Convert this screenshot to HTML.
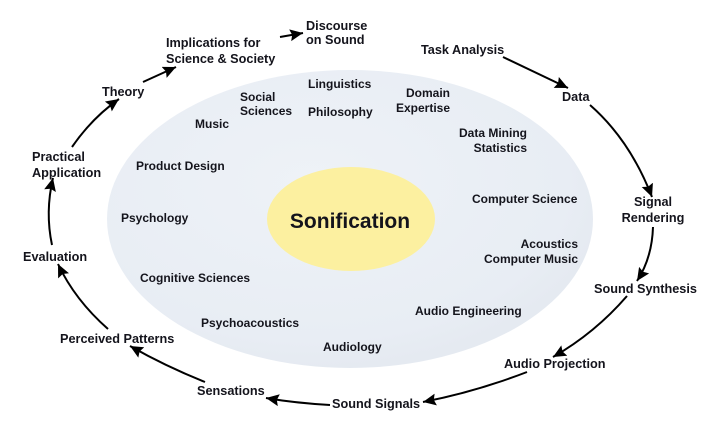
<!DOCTYPE html>
<html><head><meta charset="utf-8"><style>
html,body{margin:0;padding:0;background:#fff;}
svg{display:block;}
text{font-family:"Liberation Sans",Arial,sans-serif;font-weight:bold;fill:#14141c;}
.o{font-size:12.7px;}
.i{font-size:12px;}
</style></head><body>
<svg width="720" height="434" viewBox="0 0 720 434" xmlns="http://www.w3.org/2000/svg">
<defs>
<radialGradient id="bg" cx="0.42" cy="0.38" r="0.62">
<stop offset="0" stop-color="#eef2f7"/>
<stop offset="0.85" stop-color="#e8edf4"/>
<stop offset="1" stop-color="#e5eaf1"/>
</radialGradient>
<marker id="ah" markerUnits="userSpaceOnUse" markerWidth="16" markerHeight="14" refX="13" refY="6" orient="auto">
<path d="M0,0 L13,6 L0,12 L2,6 Z" fill="#000"/>
</marker>
</defs>
<ellipse cx="350" cy="219" rx="243" ry="149" fill="url(#bg)"/>
<ellipse cx="351" cy="219" rx="84" ry="52" fill="#fcf0a0"/>

<g fill="none" stroke="#000" stroke-width="2" marker-end="url(#ah)">
<path d="M280,37 L303,33"/>
<path d="M143,82 L176,67"/>
<path d="M72,147 Q92,118 119,99"/>
<path d="M52,245 Q45,212 53,178"/>
<path d="M108,329 Q75,300 58,264"/>
<path d="M205,382 Q165,366 130,346"/>
<path d="M330,405 Q295,403 266,398"/>
<path d="M527,372 Q475,392 423,402"/>
<path d="M627,296 Q595,333 553,357"/>
<path d="M653,227 Q652,258 637,281"/>
<path d="M590,105 Q630,140 652,197"/>
<path d="M503,57 L568,88"/>
</g>

<text x="350" y="228" font-size="21" text-anchor="middle">Sonification</text>

<g class="o">
<text x="306" y="30">Discourse</text>
<text x="306" y="44">on Sound</text>
<text x="166" y="47">Implications for</text>
<text x="166" y="63">Science &amp; Society</text>
<text x="102" y="96">Theory</text>
<text x="32" y="161">Practical</text>
<text x="32" y="177">Application</text>
<text x="23" y="261">Evaluation</text>
<text x="60" y="343">Perceived Patterns</text>
<text x="197" y="395">Sensations</text>
<text x="332" y="408">Sound Signals</text>
<text x="504" y="368">Audio Projection</text>
<text x="594" y="293">Sound Synthesis</text>
<text x="653" y="206" text-anchor="middle">Signal</text>
<text x="653" y="222" text-anchor="middle">Rendering</text>
<text x="562" y="101">Data</text>
<text x="421" y="54">Task Analysis</text>
</g>

<g class="i">
<text x="308" y="88">Linguistics</text>
<text x="308" y="116">Philosophy</text>
<text x="240" y="101">Social</text>
<text x="240" y="115">Sciences</text>
<text x="195" y="128">Music</text>
<text x="450" y="97" text-anchor="end">Domain</text>
<text x="450" y="112" text-anchor="end">Expertise</text>
<text x="527" y="137" text-anchor="end">Data Mining</text>
<text x="527" y="152" text-anchor="end">Statistics</text>
<text x="136" y="170">Product Design</text>
<text x="472" y="203">Computer Science</text>
<text x="121" y="222">Psychology</text>
<text x="578" y="248" text-anchor="end">Acoustics</text>
<text x="578" y="263" text-anchor="end">Computer Music</text>
<text x="140" y="282">Cognitive Sciences</text>
<text x="415" y="315">Audio Engineering</text>
<text x="201" y="327">Psychoacoustics</text>
<text x="323" y="351">Audiology</text>
</g>
</svg>
</body></html>
